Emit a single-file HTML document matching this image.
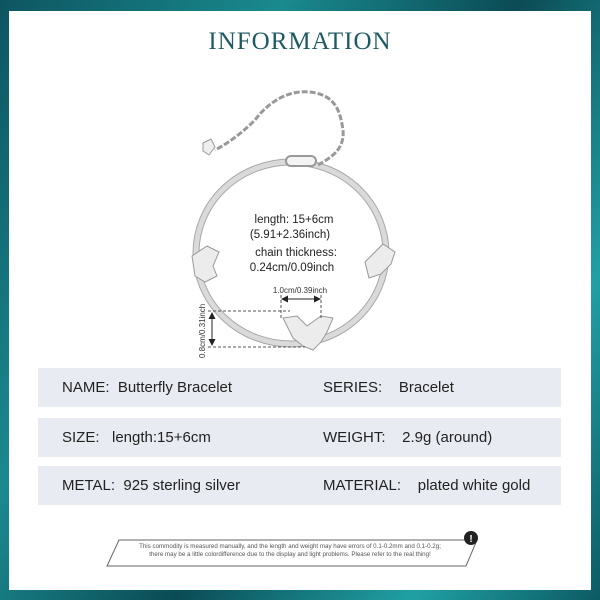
<!DOCTYPE html>
<html><head><style>
body{margin:0;width:600px;height:600px;overflow:hidden;background:linear-gradient(120deg,#0d5560,#1a8a8f 30%,#0b4b55 55%,#20a0a4 80%,#0c5a63);font-family:"Liberation Sans",sans-serif;position:relative}
.panel{position:absolute;left:9px;top:11px;width:582px;height:579px;background:#fff}
.title{position:absolute;left:0;width:600px;top:28px;text-align:center;font-family:"Liberation Serif",serif;font-size:25px;color:#1d5a63;letter-spacing:1px}
.row{position:absolute;left:38px;width:523px;height:39px;background:#e8ecf2;font-size:15px;color:#222}
.row span{position:absolute;top:11px}
</style></head><body>
<div class="panel"></div>
<div class="title">INFORMATION</div>
<svg style="position:absolute;left:0;top:0" width="600" height="600">
<g fill="none" stroke="#a8a8a8">
<ellipse cx="291" cy="253" rx="95" ry="91" stroke-width="6" stroke="#dadada"/>
<ellipse cx="291" cy="253" rx="92" ry="88" stroke-width="1"/>
<ellipse cx="291" cy="253" rx="98" ry="94" stroke-width="1"/>
<path d="M318 165 C330 158 345 150 343 130 C340 110 335 95 310 92 C290 90 270 100 255 120 C240 135 225 145 215 150" stroke-width="3" stroke-dasharray="6,2" stroke="#999"/>
<rect x="286" y="156" width="30" height="10" rx="5" stroke-width="2" fill="#f4f4f4" stroke="#999"/>
</g>
<path d="M203 143 l8 -4 l4 8 l-6 8 l-6 -4z" fill="#eee" stroke="#999"/>
<g fill="#ececec" stroke="#999">
<path d="M192 256 l15 -10 l12 6 l-6 14 l4 10 l-12 6 l-10 -6 z"/>
<path d="M365 262 l18 -18 l12 8 l-4 12 l-10 10 l-12 4 z"/>
<path d="M283 318 l14 -2 l10 10 l14 -10 l12 2 l-6 14 l-6 10 l-8 8 l-10 -4 l-10 -8 z"/>
</g>
<g stroke="#555" stroke-dasharray="3,2" fill="none">
<line x1="281" y1="295" x2="281" y2="318"/><line x1="321" y1="295" x2="321" y2="318"/>
<line x1="208" y1="311" x2="290" y2="311"/><line x1="208" y1="347" x2="305" y2="347"/>
</g>
<line x1="285" y1="299" x2="317" y2="299" stroke="#222"/><path d="M281 299 l7 -3.5 v7z M321 299 l-7 -3.5 v7z" fill="#222"/>
<line x1="212" y1="314" x2="212" y2="344" stroke="#222"/><path d="M212 312 l-3.5 7 h7z M212 346 l-3.5 -7 h7z" fill="#222"/>
<text x="300" y="293" font-size="8" text-anchor="middle" fill="#333">1.0cm/0.39inch</text>
<text transform="translate(205,358) rotate(-90)" font-size="8" fill="#333">0.8cm/0.31inch</text>
<g font-size="11.5" fill="#222" text-anchor="middle">
<text x="294" y="223">length: 15+6cm</text><text x="290" y="238">(5.91+2.36inch)</text>
<text x="296" y="256">chain thickness:</text><text x="292" y="271">0.24cm/0.09inch</text>
</g>
<polygon points="119,540 477,540 466,566 107,566" fill="#fff" stroke="#666"/>
<circle cx="471" cy="538" r="7" fill="#222"/><text x="471" y="542" font-size="10" fill="#fff" text-anchor="middle" font-weight="bold">!</text>
<text x="290" y="548" font-size="6.2" fill="#555" text-anchor="middle">This commodity is measured manually, and the length and weight may have errors of 0.1-0.2mm and 0.1-0.2g;</text>
<text x="290" y="556" font-size="6.2" fill="#555" text-anchor="middle">there may be a little colordifference due to the display and light problems. Please refer to the real thing!</text>
</svg>
<div class="row" style="top:368px"><span style="left:24px">NAME:&nbsp; Butterfly Bracelet</span><span style="left:285px">SERIES:&nbsp;&nbsp;&nbsp; Bracelet</span></div>
<div class="row" style="top:418px"><span style="left:24px">SIZE:&nbsp;&nbsp; length:15+6cm</span><span style="left:285px">WEIGHT:&nbsp;&nbsp;&nbsp; 2.9g (around)</span></div>
<div class="row" style="top:466px"><span style="left:24px">METAL:&nbsp; 925 sterling silver</span><span style="left:285px">MATERIAL:&nbsp;&nbsp;&nbsp; plated white gold</span></div>
</body></html>
